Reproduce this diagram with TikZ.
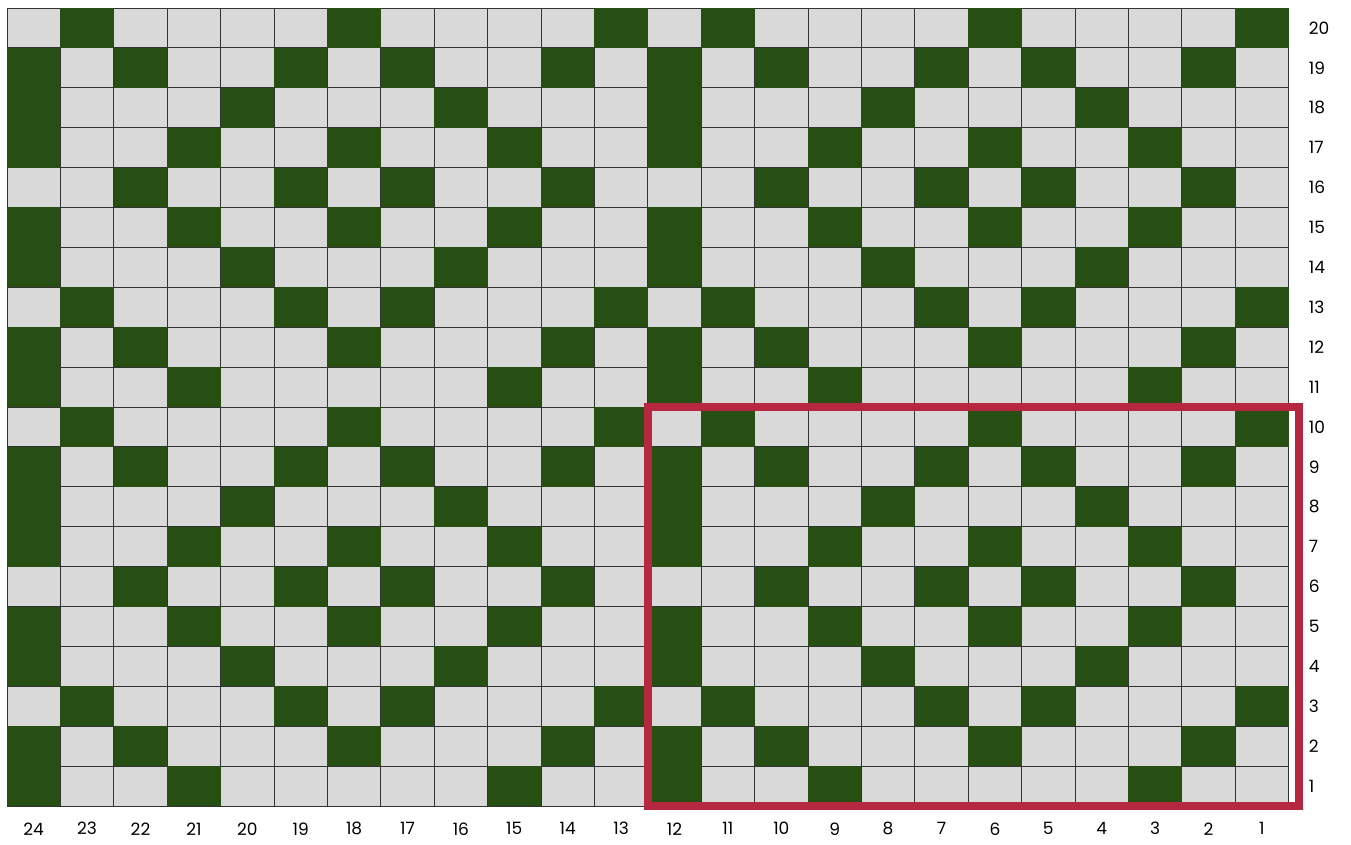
\documentclass[tikz,border=0pt]{standalone}
\usepackage{fontspec}
\setmainfont{Poppins}
\definecolor{cellgray}{HTML}{D9D9D9}
\definecolor{cellgreen}{HTML}{274E13}
\definecolor{repeatred}{HTML}{B5283F}
\tikzset{
  cell/.style={draw=black!80,line width=0.8pt,fill=cellgray},
  darkcell/.style={fill=cellgreen},
  repeatbox/.style={draw=repeatred,line width=8pt},
  collabel/.style={font=\fontsize{17}{20}\selectfont,inner sep=0pt},
  rowlabel/.style={font=\fontsize{17}{20}\selectfont,inner sep=0pt,anchor=west}
}
\begin{document}
\begin{tikzpicture}[x=53.4pt,y=39.9pt]
  \useasboundingbox (-7pt,-38pt) rectangle (1344pt,806pt);
  % light grid
  \foreach \i in {0,...,23}
    \foreach \j in {0,...,19}
      \draw[cell] (\i,\j) rectangle ++(1,1);
  % dark cells of one 12x10 repeat, tiled 2x2
  \foreach \r/\cols in {1/{12,9,3},2/{12,10,6,2},3/{11,7,5,1},4/{12,8,4},
      5/{12,9,6,3},6/{10,7,5,2},7/{12,9,6,3},8/{12,8,4},9/{12,10,7,5,2},10/{11,6,1}}
    \foreach \c in \cols
      \foreach \dx in {0,12}
        \foreach \dy in {0,10}
          \fill[darkcell] (24-\c-\dx,\r-1+\dy) rectangle ++(1,1);
  % repeat outline
  \draw[repeatbox] (12,0) rectangle ([xshift=10pt]24,10);
  % labels
  \foreach \c in {1,...,24}
    \node[collabel] (col\c) at (24.5-\c,-0.57) {\c};
  \foreach \r in {1,...,20}
    \node[rowlabel] (row\r) at ([xshift=20pt]24,\r-0.5) {\r};
\end{tikzpicture}
\end{document}
